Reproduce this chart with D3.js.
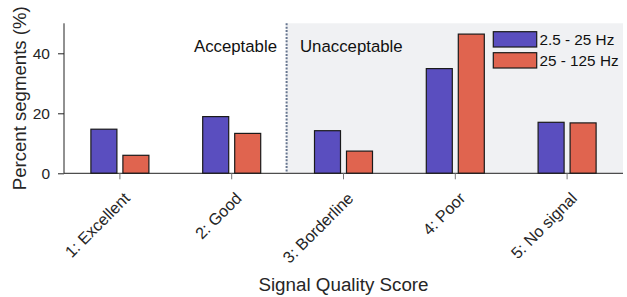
<!DOCTYPE html>
<html>
<head>
<meta charset="utf-8">
<script src="https://cdn.jsdelivr.net/npm/d3@7"></script>
<style>
  html, body { margin: 0; padding: 0; background: #fff; }
  svg { display: block; font-family: "Liberation Sans", Arial, Helvetica, sans-serif; }
</style>
</head>
<body>
<svg id="chart" width="627" height="297"></svg>
<script>
const categories = ["1: Excellent", "2: Good", "3: Borderline", "4: Poor", "5: No signal"];
const seriesNames = ["2.5 - 25 Hz", "25 - 125 Hz"];
const lowBand = [14.7, 18.9, 14.2, 34.9, 17.0];
const highBand = [6.0, 13.3, 7.4, 46.4, 16.8];
const yTicks = [0, 20, 40];
const colors = ["#5a4ebf", "#e0644f"];

(function () {
const svg = d3.select("#chart");
const mLeft = 64, mRight = 623, mTop = 23.3, mBottom = 173.3;
const textColor = "#262626";

const x = d3.scaleBand().domain(categories).range([mLeft, mRight]).padding(0);
const xs = d3.scaleBand().domain(seriesNames).range([-29, 29]).paddingInner(0.1875).paddingOuter(0);
const y = d3.scaleLinear().domain([0, 50]).range([mBottom, mTop]);

// shaded "unacceptable" region
const splitX = (x(categories[1]) + x.bandwidth() + x(categories[2])) / 2 - 1;
svg.append("rect")
  .attr("x", splitX).attr("y", mTop)
  .attr("width", mRight - splitX).attr("height", mBottom - mTop)
  .attr("fill", "#f0f1f3");

svg.append("line")
  .attr("x1", splitX).attr("x2", splitX)
  .attr("y1", mTop).attr("y2", mBottom)
  .attr("stroke", "#66768f").attr("stroke-width", 2)
  .attr("stroke-dasharray", "2,1.4");

// bars
const rows = categories.map((c, i) => ({ cat: c, vals: [lowBand[i], highBand[i]] }));
const g = svg.append("g");
rows.forEach(r => {
  r.vals.forEach((v, j) => {
    const cx = x(r.cat) + x.bandwidth() / 2;
    g.append("rect")
      .attr("x", cx + xs(seriesNames[j]))
      .attr("y", y(v))
      .attr("width", xs.bandwidth())
      .attr("height", y(0) - y(v))
      .attr("fill", colors[j])
      .attr("stroke", "#1a1a1a")
      .attr("stroke-width", 1.2);
  });
});

// axes
const yAxis = d3.axisLeft(y).tickValues(yTicks).tickSize(6).tickPadding(8);
const ya = svg.append("g").attr("transform", `translate(${mLeft},0)`).call(yAxis);
ya.select(".domain").attr("stroke", "#222").attr("d", `M0,${mBottom}V${mTop}`);
ya.selectAll(".tick line").attr("stroke", "#222");
ya.selectAll(".tick text").attr("fill", textColor).style("font-size", "15.5px")
  .style("font-family", "'Liberation Sans', Arial, sans-serif");

const xAxis = d3.axisBottom(x).tickSize(6).tickSizeOuter(0);
const xa = svg.append("g").attr("transform", `translate(0,${mBottom})`).call(xAxis);
xa.select(".domain").attr("stroke", "#222").attr("d", `M${mLeft},0H${mRight}`);
xa.selectAll(".tick line").attr("stroke", "#777");
xa.selectAll(".tick text")
  .attr("fill", textColor)
  .style("font-size", "16.2px")
  .style("font-family", "'Liberation Sans', Arial, sans-serif")
  .attr("text-anchor", "end")
  .attr("dy", null)
  .attr("y", null)
  .attr("transform", "translate(11,26) rotate(-45)");

// annotations
svg.append("text").attr("x", 277).attr("y", 52.3).attr("text-anchor", "end")
  .attr("fill", "#111").style("font-size", "16.8px").text("Acceptable");
svg.append("text").attr("x", 300).attr("y", 52.3).attr("text-anchor", "start")
  .attr("fill", "#111").style("font-size", "16.8px").text("Unacceptable");

// legend
const legY = [31.7, 52.7];
seriesNames.forEach((s, j) => {
  svg.append("rect").attr("x", 493.3).attr("y", legY[j]).attr("width", 43.4).attr("height", 15.3)
    .attr("fill", colors[j]).attr("stroke", "#1a1a1a").attr("stroke-width", 1.2);
  svg.append("text").attr("x", 539.5).attr("y", legY[j] + 13.5)
    .attr("fill", "#111").style("font-size", "15.3px").text(s);
});

// axis labels
svg.append("text").attr("x", (mLeft + mRight) / 2).attr("y", 290.7).attr("text-anchor", "middle")
  .attr("fill", textColor).style("font-size", "18.8px").text("Signal Quality Score");
svg.append("text").attr("transform", `translate(25.5,${(mTop + mBottom) / 2}) rotate(-90)`)
  .attr("text-anchor", "middle")
  .attr("fill", textColor).style("font-size", "18.6px").text("Percent segments (%)");
})();
</script>
</body>
</html>
